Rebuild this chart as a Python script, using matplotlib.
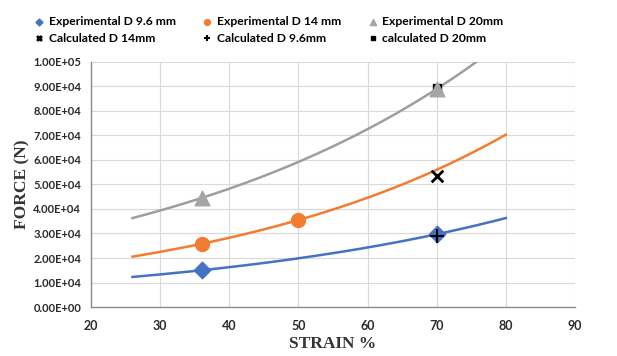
import numpy as np
import matplotlib
matplotlib.use("Agg")
import matplotlib.pyplot as plt
from matplotlib.ticker import FuncFormatter, MultipleLocator

# Data
exp96_x = [36, 70]
exp96_y = [1.5e4, 2.97e4]
exp14_x = [36, 50]
exp14_y = [2.58e4, 3.55e4]
exp20_x = [36, 70]
exp20_y = [4.45e4, 8.9e4]
calc14_x = [70]
calc14_y = [5.35e4]
calc96_x = [70]
calc96_y = [2.9e4]
calc20_x = [70]
calc20_y = [8.95e4]
trend_range = (26, 80)

blue = "#4472C4"
orange = "#F47C30"
gray = "#A5A5A5"

fig = plt.figure(figsize=(6.17, 3.56), dpi=100)
ax = fig.add_axes([0.1475, 0.1376, 0.7845, 0.6884])

def trend(xs, ys, color):
    b, a = np.polyfit(xs, np.log(ys), 1)
    xx = np.linspace(trend_range[0], trend_range[1], 200)
    ax.plot(xx, np.exp(a + b * xx), color=color, lw=1.8, zorder=2)

trend(exp96_x, exp96_y, blue)
trend(exp14_x, exp14_y, orange)
trend(exp20_x, exp20_y, "#9E9E9E")

h1 = ax.scatter(exp96_x, exp96_y, marker="D", s=70, color=blue, zorder=3, label="Experimental D 9.6 mm")
h2 = ax.scatter(exp14_x, exp14_y, marker="o", s=100, color=orange, zorder=3, label="Experimental D 14 mm")
h3 = ax.scatter(exp20_x, exp20_y, marker="^", s=110, color=gray, zorder=3, label="Experimental D 20mm")
h4 = ax.scatter(calc14_x, calc14_y, marker="x", s=70, color="black", linewidths=2, zorder=4, label="Calculated D 14mm")
h5 = ax.scatter(calc96_x, calc96_y, marker="+", s=110, color="black", linewidths=1.5, zorder=4, label="Calculated D 9.6mm")
h6 = ax.scatter(calc20_x, calc20_y, marker="s", s=40, color="black", zorder=2.5, label="calculated D 20mm")

ax.set_xlim(20, 90)
ax.set_ylim(0, 1e5)
ax.xaxis.set_major_locator(MultipleLocator(10))
ax.yaxis.set_major_locator(MultipleLocator(1e4))
ax.yaxis.set_major_formatter(FuncFormatter(lambda v, p: "%.2E" % v))
ax.grid(True, color="#D9D9D9", lw=0.8)
ax.set_axisbelow(True)
for s in ["top", "right"]:
    ax.spines[s].set_visible(False)
for s in ["left", "bottom"]:
    ax.spines[s].set_color("#8C8C8C")
    ax.spines[s].set_linewidth(1)
ax.tick_params(length=0)
ax.tick_params(axis="y", pad=7)
ax.tick_params(axis="x", pad=9)
for lab in ax.get_yticklabels():
    lab.set_fontfamily("Lato")
    lab.set_fontweight("bold")
    lab.set_fontsize(8)
    lab.set_color("#2b2b2b")
for lab in ax.get_xticklabels():
    lab.set_fontfamily("Lato")
    lab.set_fontweight("bold")
    lab.set_fontsize(9)
    lab.set_color("#2b2b2b")

ax.set_xlabel("STRAIN %", fontfamily="Liberation Serif", fontweight="bold", fontsize=12.5, color="#333333", labelpad=3)
ax.set_ylabel("FORCE (N)", fontfamily="Liberation Serif", fontweight="bold", fontsize=12.5, color="#333333", labelpad=2)

handles = [h1, h4, h2, h5, h3, h6]
leg = fig.legend(handles=handles, labels=[h.get_label() for h in handles], ncol=3,
                 loc="upper left", bbox_to_anchor=(0.036, 0.985), frameon=False,
                 prop={"family": "Lato", "weight": "bold", "size": 8.7},
                 columnspacing=2.1, handlelength=1.0, handletextpad=0.3,
                 labelspacing=0.45, markerscale=0.42)

fig.savefig("out.png", dpi=100)
